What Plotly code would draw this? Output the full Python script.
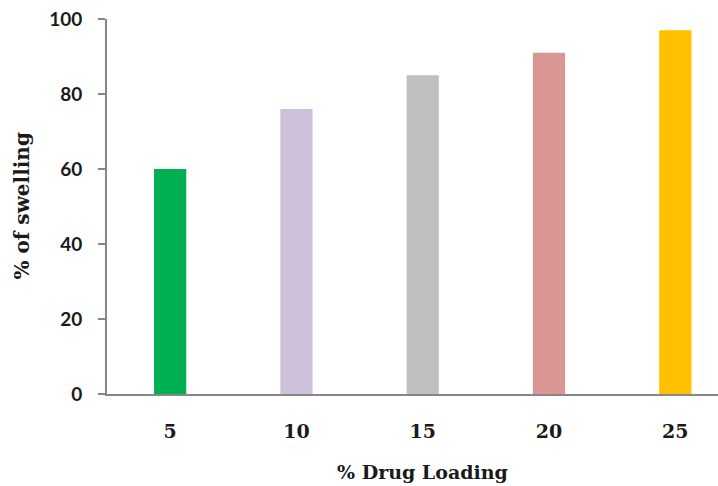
import plotly.graph_objects as go

categories = ["5", "10", "15", "20", "25"]
swelling = [60, 76, 85, 91, 97]
colors = ["#00B050", "#CCC0DA", "#BFBFBF", "#D99694", "#FFC000"]
y_ticks = [0, 20, 40, 60, 80, 100]

xpos = list(range(len(categories)))

serif_bold = dict(family="DejaVu Serif", size=19, color="#1a1a1a", weight="bold")

fig = go.Figure(go.Bar(
    x=xpos, y=swelling, marker=dict(color=colors, line=dict(width=0)),
    width=0.255,
))

fig.update_layout(
    width=718, height=486,
    margin=dict(l=107, r=0, t=19, b=92),
    paper_bgcolor="white", plot_bgcolor="white",
    showlegend=False,
    xaxis=dict(
        range=[-0.5, 4.338], tickmode="array", tickvals=xpos, ticktext=categories,
        showline=True, linecolor="#878787", linewidth=2, ticks="",
        showgrid=False, zeroline=False,
        tickfont=serif_bold,
        ticklabelstandoff=19,
    ),
    yaxis=dict(
        range=[0, 100], tickmode="array", tickvals=y_ticks,
        showline=True, linecolor="#878787", linewidth=2,
        ticks="outside", ticklen=7, tickcolor="#878787", tickwidth=2,
        showgrid=False, zeroline=False,
        tickfont=dict(family="Lato", size=19, color="#1a1a1a", weight="bold"),
        ticklabelstandoff=12,
    ),
    annotations=[
        dict(text="% Drug Loading", xref="x", yref="paper", x=2, y=0, yshift=-78,
             xanchor="center", yanchor="middle", showarrow=False, font=serif_bold),
        dict(text="% of swelling", xref="paper", yref="paper", x=0, y=0.5, xshift=-86,
             xanchor="center", yanchor="middle", textangle=-90, showarrow=False,
             font=dict(family="DejaVu Serif", size=20, color="#1a1a1a", weight="bold")),
    ],
)

fig.write_html("out.html")
